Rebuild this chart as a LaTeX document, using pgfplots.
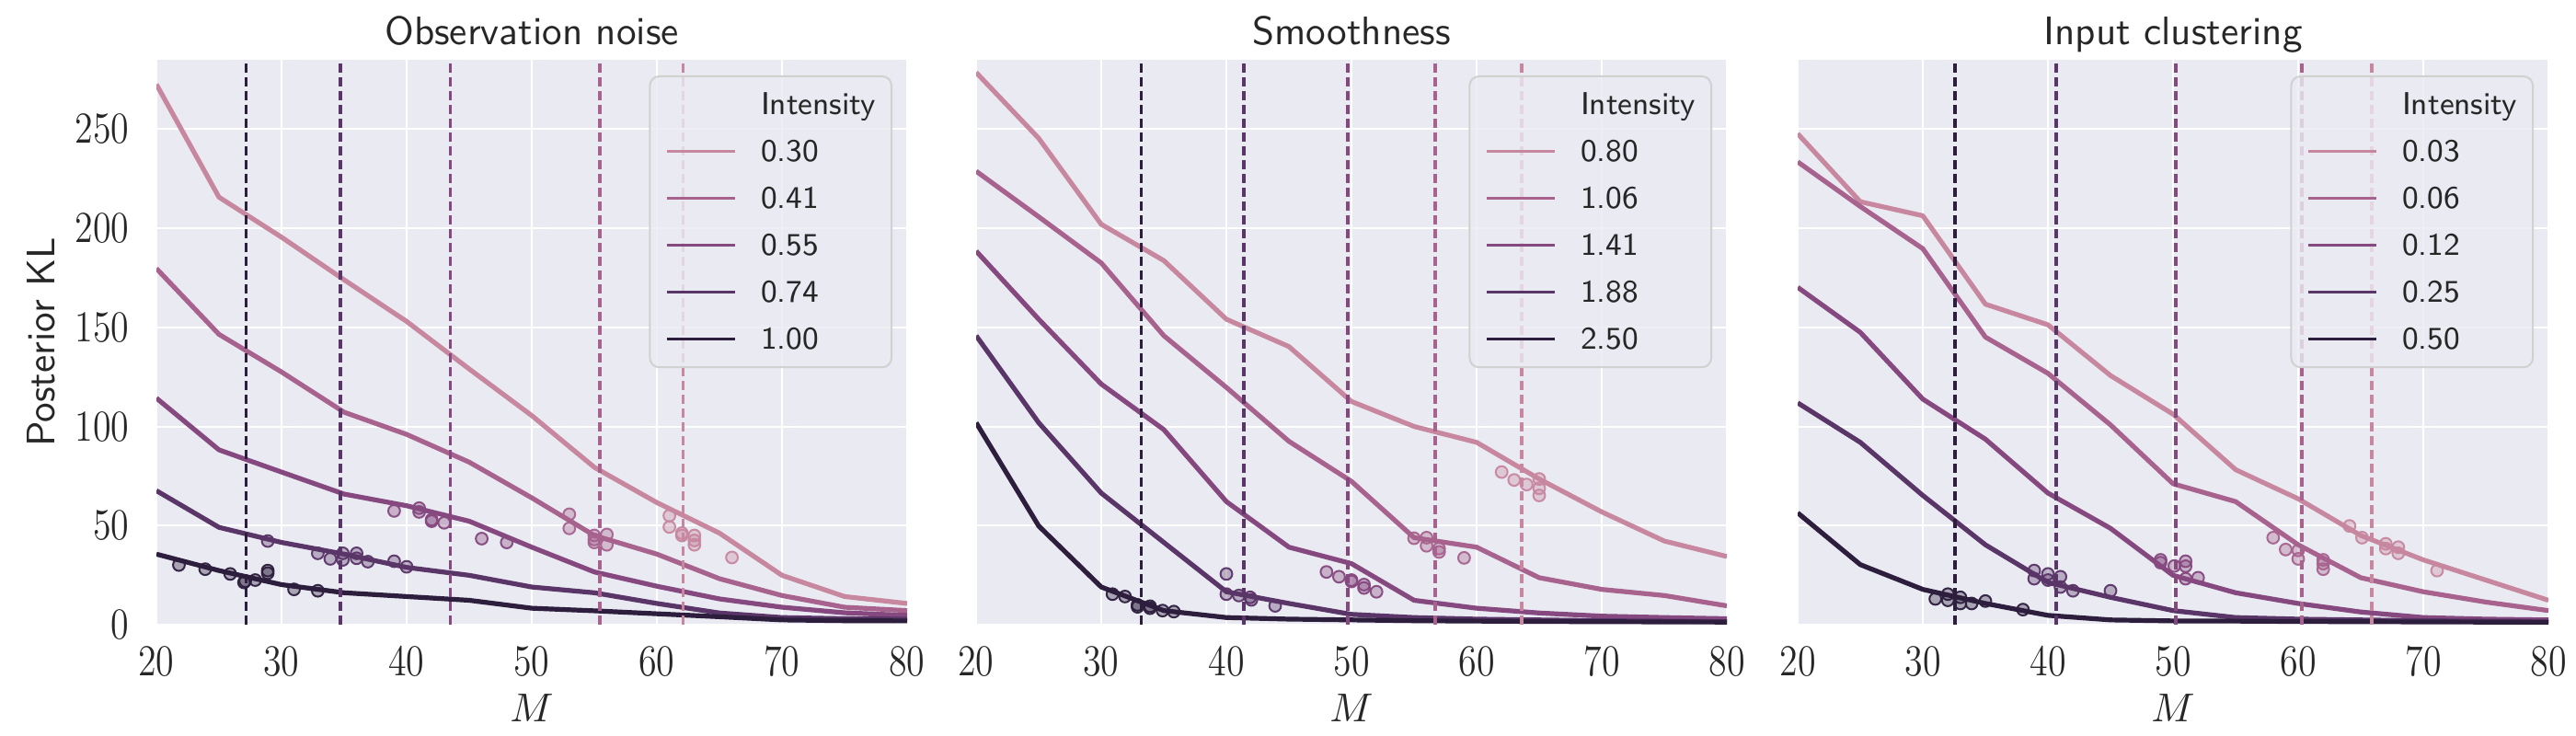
\documentclass[border=0pt]{standalone}
\usepackage{fontspec}
\usepackage{graphicx}
\usepackage{pgfplots}
\pgfplotsset{compat=1.18}
\definecolor{cA}{HTML}{C7879F}
\definecolor{cB}{HTML}{A7638E}
\definecolor{cC}{HTML}{85487F}
\definecolor{cD}{HTML}{5A3568}
\definecolor{cE}{HTML}{2D1E3E}
\definecolor{bg}{HTML}{EAEAF2}
\definecolor{txt}{HTML}{262626}
\newcommand{\fs}{\fontsize{10.8}{13}\selectfont}
\newcommand{\tfs}{\fontsize{12}{14}\selectfont}
\newcommand{\mfs}{\fontsize{11}{13}\selectfont}
\newcommand{\lfs}{\fontsize{8.6}{10}\selectfont}
\pgfplotsset{
  every axis title/.style={at={(axis description cs:0.5,1)}, anchor=base, yshift=4.1pt, font=\sffamily\fs, text=txt},
  every axis y label/.style={at={(axis description cs:-0.1537,0.5)}, anchor=center, rotate=90, font=\sffamily\fs, text=txt},
  every axis x label/.style={at={(axis description cs:0.5,0)}, anchor=center, yshift=-22.75pt, font=\mfs, text=txt},
  panel/.style={
    scale only axis, width=204pt, height=153.5pt,
    xmin=20, xmax=80, ymin=0, ymax=285,
    xtick={20,30,...,80}, ytick={0,50,...,250},
    axis background/.style={fill=bg},
    axis line style={draw=none},
    major tick length=0pt,
    grid=major, major grid style={white, line width=0.5pt},
    tick label style={font=\tfs, text=txt},
    xticklabel={\scalebox{0.833}[1]{$\pgfmathprintnumber{\tick}$}},
    yticklabel={\scalebox{0.833}[1]{$\pgfmathprintnumber{\tick}$}},
    xticklabel style={anchor=north, inner sep=0pt, yshift=-6pt},
    yticklabel style={anchor=east, inner sep=0pt, xshift=-7.25pt},
    xlabel={$M$},
    legend style={at={(axis description cs:1,1)}, anchor=north east, xshift=-4pt, yshift=-4.25pt,
      fill=bg, fill opacity=0.8, draw opacity=1, text opacity=1, draw=black!18, line width=0.5pt,
      rounded corners=2.5pt, font=\sffamily\lfs, text=txt,
      inner xsep=4.25pt, inner ysep=4.4pt, row sep=6.25pt, column sep=6.75pt,
      nodes={inner sep=0pt, text height=6pt, text depth=0.5pt}},
    legend cell align=left,
    legend image code/.code={\draw[#1, line width=0.65pt] (0pt,0pt) -- (18.5pt,0pt);},
  },
  ln/.style={line width=1.3pt, line join=round, mark=none},
  vl/.style={line width=0.9pt, dash pattern=on 2.5pt off 1.25pt, forget plot},
  sc/.style={only marks, mark=*, mark size=1.6pt, color=#1,
    mark options={fill=#1, fill opacity=0.34, draw=#1, draw opacity=0.95, line width=0.5pt}, forget plot},
}
\begin{document}
\begin{tikzpicture}
% ---------------- Panel 1 ----------------
\begin{axis}[panel, at={(42.5pt,30.25pt)}, anchor=south west,
  title={Observation noise},
  ylabel={Posterior KL}]
\addlegendimage{empty legend}\addlegendentry{Intensity}
\addplot[ln, cA] coordinates {(20,272.6) (25,215.7) (30,195.5) (35,174) (40,153) (45,129) (50,105.5) (55,79.4) (60,61.6) (65,46.2) (70,24.9) (75,14.2) (80,10.7)};
\addlegendentry{0.30}
\addplot[ln, cB] coordinates {(20,179.7) (25,146.5) (30,127.5) (35,107.2) (40,96) (45,82) (50,64) (55,45) (60,35.6) (65,23.2) (70,14.7) (75,8.8) (80,7.1)};
\addlegendentry{0.41}
\addplot[ln, cC] coordinates {(20,114.3) (25,88.2) (30,77) (35,65.9) (40,60) (45,52.2) (50,39.1) (55,26.6) (60,19.4) (65,13) (70,8.8) (75,6) (80,4.7)};
\addlegendentry{0.55}
\addplot[ln, cD] coordinates {(20,67.6) (25,49.1) (30,41.5) (35,35.6) (40,28.9) (45,24.9) (50,19) (55,16.1) (60,10.7) (65,5.9) (70,3.6) (75,3.0) (80,2.8)};
\addlegendentry{0.74}
\addplot[ln, cE] coordinates {(20,35.6) (25,27.3) (30,20.2) (35,16.1) (40,14.2) (45,12.3) (50,8.3) (55,7.0) (60,5.5) (65,4.0) (70,2.4) (75,2.0) (80,1.9)};
\addlegendentry{1.00}
\addplot[vl, cE] coordinates {(27.18,0) (27.18,285)};
\addplot[vl, cD] coordinates {(34.7,0) (34.7,285)};
\addplot[vl, cC] coordinates {(43.5,0) (43.5,285)};
\addplot[vl, cB] coordinates {(55.45,0) (55.45,285)};
\addplot[vl, cA] coordinates {(62.1,0) (62.1,285)};
\addplot[sc=cE] coordinates {(21.8,30.1) (23.9,28) (25.9,25.6) (27,21.3) (27.1,22) (27.9,22.5) (28.9,27.3) (28.9,26) (31,17.8) (32.9,17.1)};
\addplot[sc=cD] coordinates {(28.9,42.2) (32.9,36) (33.9,33.2) (34.9,36) (34.9,32.7) (36,36) (36,33.5) (36.9,31.8) (39,32) (40,29.2)};
\addplot[sc=cC] coordinates {(39,57.4) (41,58.8) (41,56.9) (42,52.2) (42,53) (43,51.4) (46,43.4) (48,41.5)};
\addplot[sc=cB] coordinates {(53,55.7) (53,48.6) (55,45) (55,43) (55,41.5) (56,45.5) (56,40.3)};
\addplot[sc=cA] coordinates {(61,55) (61,49.3) (62,46.2) (62,45) (63,45) (63,42.5) (63,40.3) (66,33.9)};
\end{axis}
% ---------------- Panel 2 ----------------
\begin{axis}[panel, at={(265.25pt,30.25pt)}, anchor=south west,
  title={Smoothness}, yticklabels={}]
\addlegendimage{empty legend}\addlegendentry{Intensity}
\addplot[ln, cA] coordinates {(20,278.6) (25,245.4) (30,202) (35,183.7) (40,154.1) (45,140.3) (50,112.6) (55,100) (60,92) (65,73.5) (70,56.9) (75,42.2) (80,34.4)};
\addlegendentry{0.80}
\addplot[ln, cB] coordinates {(20,228.8) (25,205.8) (30,182.5) (35,145.8) (40,119.7) (45,92.5) (50,72.3) (55,43.9) (60,39.1) (65,23.7) (70,17.8) (75,14.7) (80,9.5)};
\addlegendentry{1.06}
\addplot[ln, cC] coordinates {(20,188.5) (25,154.1) (30,121.4) (35,98.4) (40,62.1) (45,39.1) (50,30.8) (55,12.3) (60,8.3) (65,5.9) (70,4.3) (75,3.6) (80,3.0)};
\addlegendentry{1.41}
\addplot[ln, cD] coordinates {(20,145.8) (25,101.9) (30,66.4) (35,41.5) (40,16.6) (45,10.7) (50,5.2) (55,3.6) (60,2.8) (65,2.4) (70,2.0) (75,1.8) (80,1.5)};
\addlegendentry{1.88}
\addplot[ln, cE] coordinates {(20,101.9) (25,49.8) (30,19) (35,7.1) (40,3.6) (45,2.8) (50,2.4) (55,2.0) (60,1.8) (65,1.6) (70,1.5) (75,1.4) (80,1.3)};
\addlegendentry{2.50}
\addplot[vl, cE] coordinates {(33.2,0) (33.2,285)};
\addplot[vl, cD] coordinates {(41.4,0) (41.4,285)};
\addplot[vl, cC] coordinates {(49.7,0) (49.7,285)};
\addplot[vl, cB] coordinates {(56.7,0) (56.7,285)};
\addplot[vl, cA] coordinates {(63.6,0) (63.6,285)};
\addplot[sc=cE] coordinates {(30.9,15.4) (31.9,14.2) (32.9,9) (32.9,10) (33.9,8.3) (33.9,9.3) (34.9,7.1) (35.8,6.6)};
\addplot[sc=cD] coordinates {(40,25.6) (40,15.4) (41,14.7) (41.9,13.8) (42,12.5) (43.9,9.5)};
\addplot[sc=cC] coordinates {(48,26.6) (49,24.2) (50,21.8) (50,22.5) (51,20.2) (51,18.5) (52,16.6)};
\addplot[sc=cB] coordinates {(55,43.6) (56,43.9) (56,39.8) (57,38.4) (57,36.7) (59,33.7)};
\addplot[sc=cA] coordinates {(62,77) (63,73) (64,70.7) (65,73.5) (65,68.8) (65,65.2)};
\end{axis}
% ---------------- Panel 3 ----------------
\begin{axis}[panel, at={(488.5pt,30.25pt)}, anchor=south west,
  title={Input clustering}, yticklabels={}]
\addlegendimage{empty legend}\addlegendentry{Intensity}
\addplot[ln, cA] coordinates {(20,247.7) (25,213.4) (30,206.3) (35,161.7) (40,151.3) (45,125.7) (50,106.2) (55,78.2) (60,63.5) (65,45) (70,32.7) (75,22.5) (80,12.3)};
\addlegendentry{0.03}
\addplot[ln, cB] coordinates {(20,233.5) (25,211) (30,189.7) (35,145.1) (40,126.8) (45,100.8) (50,71.1) (55,62.1) (60,40.3) (65,23.7) (70,16.6) (75,11.4) (80,7.1)};
\addlegendentry{0.06}
\addplot[ln, cC] coordinates {(20,170.2) (25,147.5) (30,113.8) (35,93.6) (40,66.4) (45,48.6) (50,24.9) (55,16.1) (60,10.7) (65,6.4) (70,3.6) (75,2.8) (80,2.4)};
\addlegendentry{0.12}
\addplot[ln, cD] coordinates {(20,111.9) (25,92) (30,65.2) (35,40.3) (40,21.3) (45,13.8) (50,7.1) (55,3.6) (60,2.8) (65,2.4) (70,2.0) (75,1.8) (80,1.6)};
\addlegendentry{0.25}
\addplot[ln, cE] coordinates {(20,56.4) (25,30.3) (30,17.8) (35,10.7) (40,4.7) (45,2.4) (50,1.9) (55,1.8) (60,1.6) (65,1.5) (70,1.4) (75,1.3) (80,1.2)};
\addlegendentry{0.50}
\addplot[vl, cE] coordinates {(32.57,0) (32.57,285)};
\addplot[vl, cD] coordinates {(40.67,0) (40.67,285)};
\addplot[vl, cC] coordinates {(50.2,0) (50.2,285)};
\addplot[vl, cB] coordinates {(60.3,0) (60.3,285)};
\addplot[vl, cA] coordinates {(65.9,0) (65.9,285)};
\addplot[sc=cE] coordinates {(31,13) (32,15.4) (32,12.3) (33,13.8) (33,10.7) (33.9,10.7) (35,11.9) (38,7.6)};
\addplot[sc=cD] coordinates {(38.9,27.3) (38.9,23.2) (40,25.6) (40,22.5) (41,24.2) (41,19) (42,17.1) (45,17.1)};
\addplot[sc=cC] coordinates {(49,32.7) (49,31.3) (50.1,29.6) (51,32) (51,29.5) (51,23.2) (52,23.7)};
\addplot[sc=cB] coordinates {(58,43.9) (59,37.9) (60,37.5) (60,33.2) (62,32.7) (62,30.8) (62,28)};
\addplot[sc=cA] coordinates {(64.1,49.8) (65.1,43.9) (67,40.8) (67,38.4) (68,39.1) (68,36) (71.1,27.3)};
\end{axis}
\pgfresetboundingbox
\path[use as bounding box] (0,0) rectangle (700pt,200pt);
\end{tikzpicture}
\end{document}
